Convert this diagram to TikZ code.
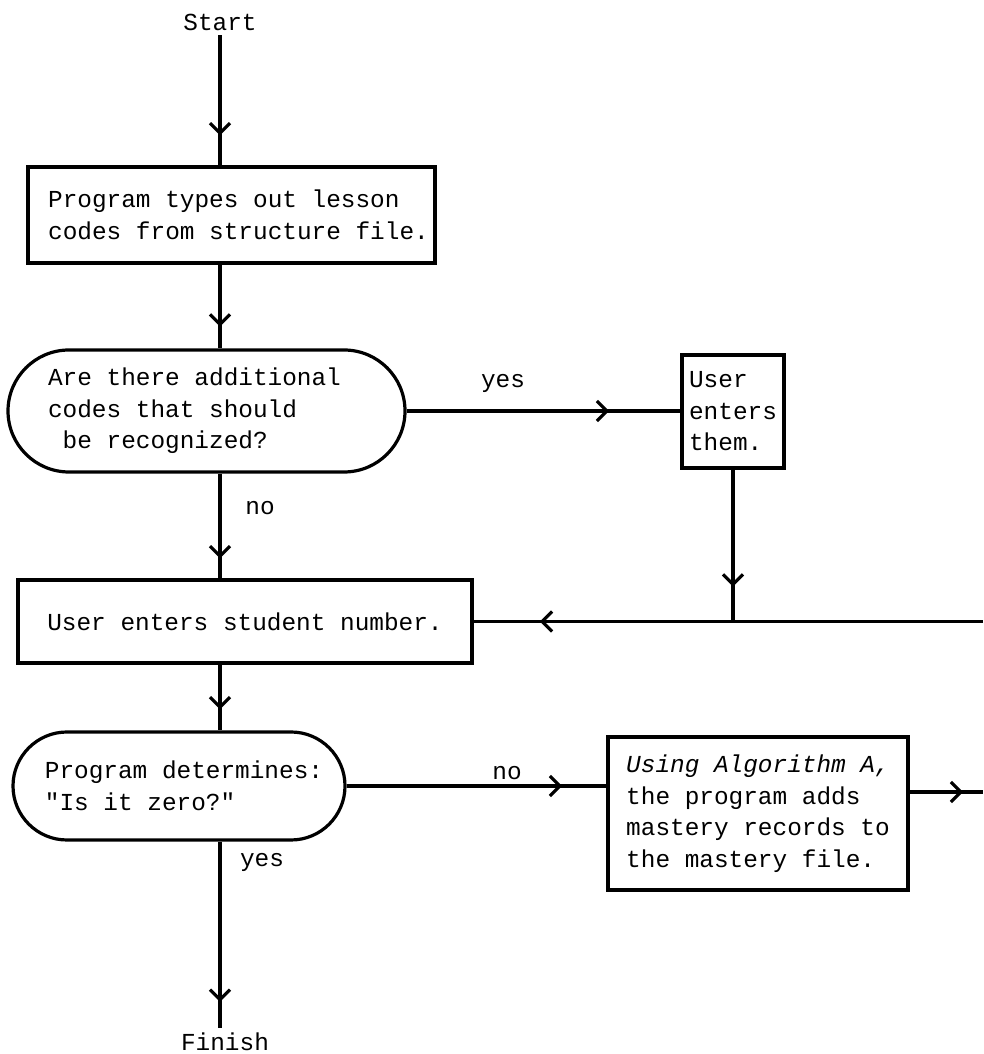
\documentclass[tikz,border=0pt]{standalone}
\usepackage{fontspec}
\setmainfont{Liberation Mono}[Ligatures=TeXOff]
\usetikzlibrary{positioning}
\usetikzlibrary{arrows.meta}
\usetikzlibrary{decorations.markings}

\begin{document}
\begin{tikzpicture}[x=1pt,y=1pt,font=\fontsize{24.4}{31.5}\selectfont,
  line width=3.2pt,
  stepbox/.style={draw,rectangle,align=left,inner sep=0pt},
  askbox/.style={draw,rectangle,rounded corners=#1,align=left,inner sep=0pt},
  flow/.style={postaction={decorate},decoration={markings,
    mark=at position #1 with {\arrow{Straight Barb[length=10pt,width=20pt]}}}}]
  \useasboundingbox (0,0) rectangle (983,1054);

  \node (start) at (220,1032) {Start};
  \node [stepbox,minimum width=407pt,minimum height=96pt]
  (types) at (231.5,839) {\hspace*{14pt}Program types out lesson\\\hspace*{14pt}codes from structure file.};
  \node [askbox=61pt,minimum width=397pt,minimum height=122pt]
  (extra) at (206.5,643) {Are there additional\hspace*{24pt}\\codes that should\\~be recognized?};
  \node [stepbox,minimum width=102pt,minimum height=113pt]
  (more) at (733,642.5) {User\\enters\\them.};
  \node [stepbox,minimum width=454pt,minimum height=83pt]
  (enter) at (245,432.5) {User enters student number.};
  \node [askbox=54pt,minimum width=332pt,minimum height=108pt]
  (zero) at (179,268) {\hspace*{10pt}Program determines:\\\hspace*{10pt}"Is it zero?"};
  \node [stepbox,minimum width=300pt,minimum height=153pt]
  (algo) at (758,240.5) {\textit{Using Algorithm A,}\\the program adds\\mastery records to\\the mastery file.};
  \node (finish) at (225,12) {Finish};

  \node (yes1) at (503,671) {yes};
  \node (no1) at (260,546) {no};
  \node (no2) at (507,281) {no};
  \node (yes2) at (262,192) {yes};

  \coordinate (backin) at (983,432.5);
  \coordinate (onward) at (983,262);

  \draw [flow=0.77] (start) -- (start |- types.north);
  \draw [flow=0.74] (start |- types.south) -- (start |- extra.north);
  \draw [flow=0.81] (start |- extra.south) -- (start |- enter.north);
  \draw [flow=0.68] (start |- enter.south) -- (start |- zero.north);
  \draw [flow=0.86] (start |- zero.south) -- (start |- finish.north);

  \draw [flow=0.74] (extra.east) -- (extra.east -| more.west);
  \draw [flow=0.77] (more.south) -- (more.south |- enter.east);
  \draw [flow=0.87] (backin) -- (enter.east);
  \draw [flow=0.83] (zero.east) -- (zero.east -| algo.west);
  \draw [flow=0.73] (algo.east |- onward) -- (onward);
\end{tikzpicture}
\end{document}
